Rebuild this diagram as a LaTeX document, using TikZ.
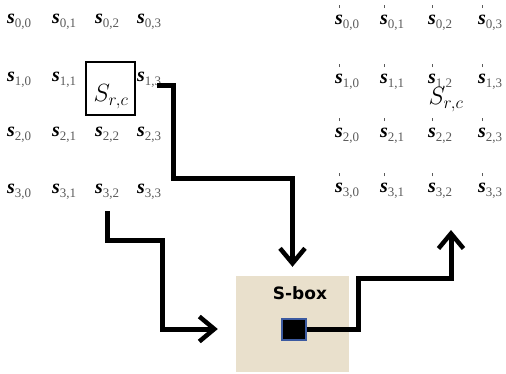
\documentclass[tikz,border=0pt]{standalone}
\usepackage{amsmath, amssymb}
\usepackage{fontspec}
\usetikzlibrary{arrows.meta, positioning, calc}
\newfontfamily\boxfont{DejaVu Sans}
\newfontfamily\cellfont{Liberation Serif}
\definecolor{sboxbeige}{RGB}{233, 224, 204}
\definecolor{subgray}{RGB}{90, 90, 90}
\definecolor{squareblue}{RGB}{60, 90, 160}
\newcommand{\cellS}[2]{{\bfseries\itshape s}\raisebox{-4pt}{\fontsize{13}{15}\selectfont\textcolor{subgray}{#1,#2}}}
\newcommand{\cellSp}[2]{\makebox[0pt][l]{\hspace{4pt}\raisebox{16pt}{\textcolor{subgray}{\rule{1pt}{3.5pt}}}}\cellS{#1}{#2}}
\tikzset{
  flowarrow/.style={-{Straight Barb[length=15pt, width=25pt, line width=4.5pt]}, line width=5pt, black},
  gridcell/.style={anchor=base west, inner sep=0pt, font=\cellfont\fontsize{20}{22}\selectfont},
  srclabel/.style={inner sep=0pt, font=\fontsize{24}{26}\selectfont}
}
\begin{document}
\begin{tikzpicture}[x=1pt, y=-1pt]
    \useasboundingbox (0,0) rectangle (506,373);

    % state before substitution
    \node (s00) [gridcell] at (7,23) {\cellS{0}{0}};
    \node (s01) [gridcell] at (52,23) {\cellS{0}{1}};
    \node (s02) [gridcell] at (95,23) {\cellS{0}{2}};
    \node (s03) [gridcell] at (137,23) {\cellS{0}{3}};
    \node (s10) [gridcell] at (7,81) {\cellS{1}{0}};
    \node (s11) [gridcell] at (52,81) {\cellS{1}{1}};
    \node (s13) [gridcell] at (137,81) {\cellS{1}{3}};
    \node (s20) [gridcell] at (7,136) {\cellS{2}{0}};
    \node (s21) [gridcell] at (52,136) {\cellS{2}{1}};
    \node (s22) [gridcell] at (95,136) {\cellS{2}{2}};
    \node (s23) [gridcell] at (137,136) {\cellS{2}{3}};
    \node (s30) [gridcell] at (7,193) {\cellS{3}{0}};
    \node (s31) [gridcell] at (52,193) {\cellS{3}{1}};
    \node (s32) [gridcell] at (95,193) {\cellS{3}{2}};
    \node (s33) [gridcell] at (137,193) {\cellS{3}{3}};

    \node (srcbox) [draw, line width=1.3pt, minimum width=49pt, minimum height=53pt, inner sep=0pt] at (110.5,88.5) {};
    \node (src) [srclabel] at (111,97) {$S_{r,c}$};

    % state after substitution
    \node (sp00) [gridcell] at (335,24) {\cellSp{0}{0}};
    \node (sp01) [gridcell] at (380,24) {\cellSp{0}{1}};
    \node (sp02) [gridcell] at (428,24) {\cellSp{0}{2}};
    \node (sp03) [gridcell] at (478,24) {\cellSp{0}{3}};
    \node (sp10) [gridcell] at (335,83) {\cellSp{1}{0}};
    \node (sp11) [gridcell] at (380,83) {\cellSp{1}{1}};
    \node (sp12) [gridcell] at (428,83) {\cellSp{1}{2}};
    \node (sp13) [gridcell] at (478,83) {\cellSp{1}{3}};
    \node (sp20) [gridcell] at (335,137) {\cellSp{2}{0}};
    \node (sp21) [gridcell] at (380,137) {\cellSp{2}{1}};
    \node (sp22) [gridcell] at (428,137) {\cellSp{2}{2}};
    \node (sp23) [gridcell] at (478,137) {\cellSp{2}{3}};
    \node (sp30) [gridcell] at (335,192) {\cellSp{3}{0}};
    \node (sp31) [gridcell] at (380,192) {\cellSp{3}{1}};
    \node (sp32) [gridcell] at (428,192) {\cellSp{3}{2}};
    \node (sp33) [gridcell] at (478,192) {\cellSp{3}{3}};

    \node (srcout) [srclabel] at (446,100) {$S_{r,c}$};

    % S-box
    \node (sbox) [fill=sboxbeige, minimum width=113pt, minimum height=96pt, inner sep=0pt] at (292.5,324) {};
    \node (sboxlabel) at (300,293) {\boxfont\bfseries\fontsize{17}{19}\selectfont S-box};
    \node (sq) [fill=black, draw=squareblue, line width=2pt, minimum width=24pt, minimum height=21pt, inner sep=0pt] at (293.5,329) {};

    \coordinate (outtip) at (451,230);

    \draw[flowarrow] ([shift={(-4pt,-4pt)}]s13.base east) -| (173,178) -| ([yshift=9pt]sbox.north);
    \draw[flowarrow] ([yshift=-12pt]s32.south) |- (162,240) |- ($(sq -| sbox.west)+(-18,0)$);
    \draw[flowarrow] (sq.east) -| (358,278) -| (outtip);
\end{tikzpicture}
\end{document}
